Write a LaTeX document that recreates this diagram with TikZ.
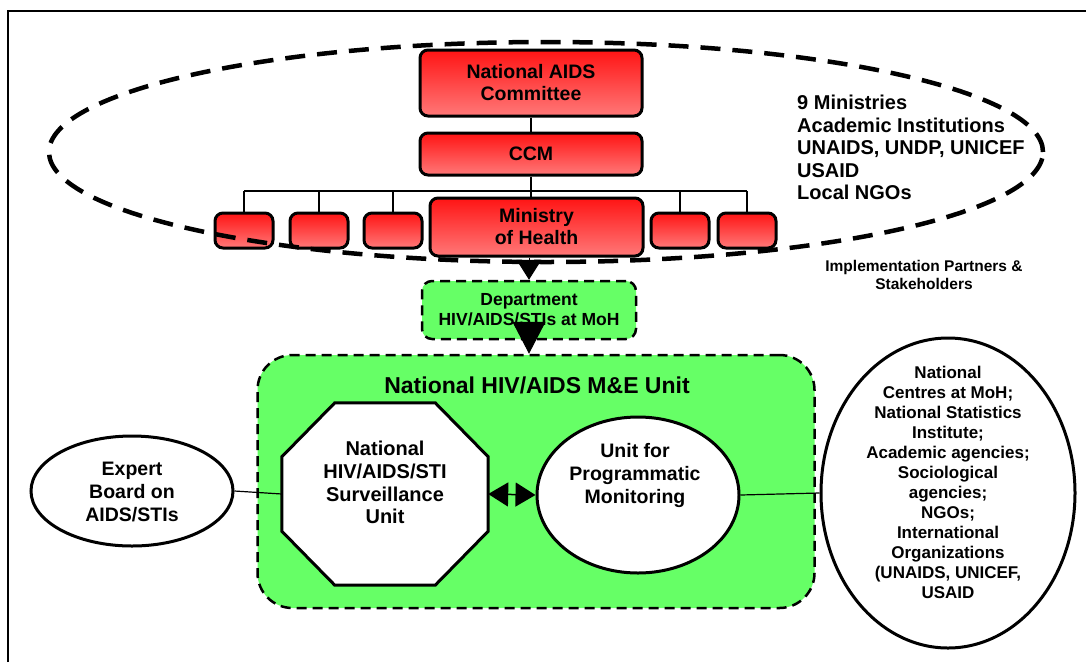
\documentclass[tikz,border=0pt]{standalone}
\usepackage{fontspec}
\setmainfont{Liberation Sans}
\usetikzlibrary{shapes.geometric,arrows.meta,calc}
\definecolor{redtop}{RGB}{255,20,20}
\definecolor{redbot}{RGB}{255,120,120}
\definecolor{mygreen}{RGB}{102,255,102}
\tikzset{
  redbox/.style={draw, line width=3pt, rounded corners=8pt, top color=redtop, bottom color=redbot,
    inner sep=0pt, align=center, font=\bfseries\fontsize{19.5}{22}\selectfont},
  smallbox/.style={redbox, minimum width=58pt, minimum height=35pt},
  greenbox/.style={draw, line width=2.5pt, dash pattern=on 10pt off 6pt, fill=mygreen, inner sep=0pt},
  whiteshape/.style={draw, line width=3pt, fill=white, inner sep=0pt},
  label/.style={inner sep=0pt, align=center, font=\bfseries},
  thin/.style={line width=1.2pt},
}
\begin{document}
\begin{tikzpicture}[x=1pt,y=-1pt]
\useasboundingbox (0,0) rectangle (1086,662);
% frame
\coordinate (fa) at (8,662);
\coordinate (fb) at (8,11);
\coordinate (fc) at (1086,11);
\draw[line width=1.5pt] (fa) -- (fb) -- (fc);

% red boxes
\node[redbox, minimum width=222pt, minimum height=66pt] (nac) at (531,83) {National AIDS\\Committee};
\node[redbox, minimum width=222pt, minimum height=42pt] (ccm) at (531,154) {CCM};
\coordinate (bus) at (531,191);
\node[smallbox] (b1) at (244,230.5) {};
\node[smallbox] (b2) at (319,230.5) {};
\node[smallbox] (b3) at (393,230.5) {};
\node[redbox, minimum width=213pt, minimum height=58pt] (moh) at (536.5,227) {Ministry\\of Health};
\node[smallbox] (b5) at (680,230.5) {};
\node[smallbox] (b6) at (747,230.5) {};

\draw[thin] (nac.south) -- (ccm.north);
\draw[thin] (ccm.south) -- (ccm.south |- moh.north);
\draw[thin] (b1.north |- bus) -- (b6.north |- bus);
\foreach \b in {b1,b2,b3,b5,b6} \draw[thin] (\b.north) -- (\b.north |- bus);

% big dashed ellipse
\node[draw, ellipse, line width=4.5pt, dash pattern=on 20pt off 12pt, minimum width=994pt, minimum height=220pt, inner sep=0pt] (group) at (546,152) {};

\node[label, anchor=west, font=\bfseries\fontsize{20}{22.5}\selectfont, align=left] (members) at (797,147.5)
  {9 Ministries\\Academic Institutions\\UNAIDS, UNDP, UNICEF\\USAID\\Local NGOs};
\node[label, font=\bfseries\fontsize{15.5}{18}\selectfont] (impl) at (924,275) {Implementation Partners \&\\Stakeholders};

% department
\node[greenbox, rounded corners=10pt, minimum width=214pt, minimum height=58pt, align=center,
  font=\bfseries\fontsize{17.5}{20}\selectfont] (dept) at (529,310) {Department\\HIV/AIDS/STIs at MoH};

% M&E unit
\node[greenbox, rounded corners=35pt, minimum width=557pt, minimum height=253pt] (me) at (536,481.5) {};
\node[label, font=\bfseries\fontsize{23}{26}\selectfont] (metitle) at (537,385) {National HIV/AIDS M\&E Unit};

% octagon
\node[inner sep=0pt, minimum width=206pt, minimum height=182pt] (oct) at (385,494) {};
\draw[whiteshape] ($(oct.north west)+(53,0)$) -- ($(oct.north east)+(-53,0)$) -- ($(oct.north east)+(0,54)$)
  -- ($(oct.south east)+(0,-54)$) -- ($(oct.south east)+(-53,0)$) -- ($(oct.south west)+(53,0)$)
  -- ($(oct.south west)+(0,-54)$) -- ($(oct.north west)+(0,54)$) -- cycle;
\node[label, font=\bfseries\fontsize{20}{22.7}\selectfont] (octtext) at (385,482.5) {National\\HIV/AIDS/STI\\Surveillance\\Unit};

% programmatic ellipse
\node[whiteshape, ellipse, minimum width=202pt, minimum height=156pt] (prog) at (638,495) {};
\node[label, font=\bfseries\fontsize{19.5}{23}\selectfont] (progtext) at (635,475) {Unit for\\Programmatic\\Monitoring};

% expert ellipse
\node[whiteshape, ellipse, minimum width=202pt, minimum height=110pt] (expert) at (132,491) {};
\node[label, font=\bfseries\fontsize{19.5}{22.7}\selectfont] (experttext) at (132,492) {Expert\\Board on\\AIDS/STIs};

% partners ellipse
\node[whiteshape, ellipse, minimum width=254pt, minimum height=310pt] (partners) at (948,493) {};
\node[label, font=\bfseries\fontsize{17}{20}\selectfont] (partnerstext) at (948,482)
  {National\\Centres at MoH;\\National Statistics\\Institute;\\Academic agencies;\\Sociological\\agencies;\\NGOs;\\International\\Organizations\\(UNAIDS, UNICEF,\\USAID};

% connectors
\draw[thin] (expert.east) -- (oct.west);
\draw[thin] (prog.east) -- (partners.west);
\draw[line width=1.5pt, {Triangle[length=20pt,width=24pt]}-{Triangle[length=20pt,width=24pt]}] (oct.east) -- (prog.west);
\draw[line width=1pt, -{Triangle[length=20pt,width=25pt]}] (dept.north |- moh.south) -- (dept.north);
\draw[line width=1pt, -{Triangle[length=32pt,width=33pt]}] ([yshift=20pt]dept.south) -- (dept.south |- me.north);
\end{tikzpicture}
\end{document}
